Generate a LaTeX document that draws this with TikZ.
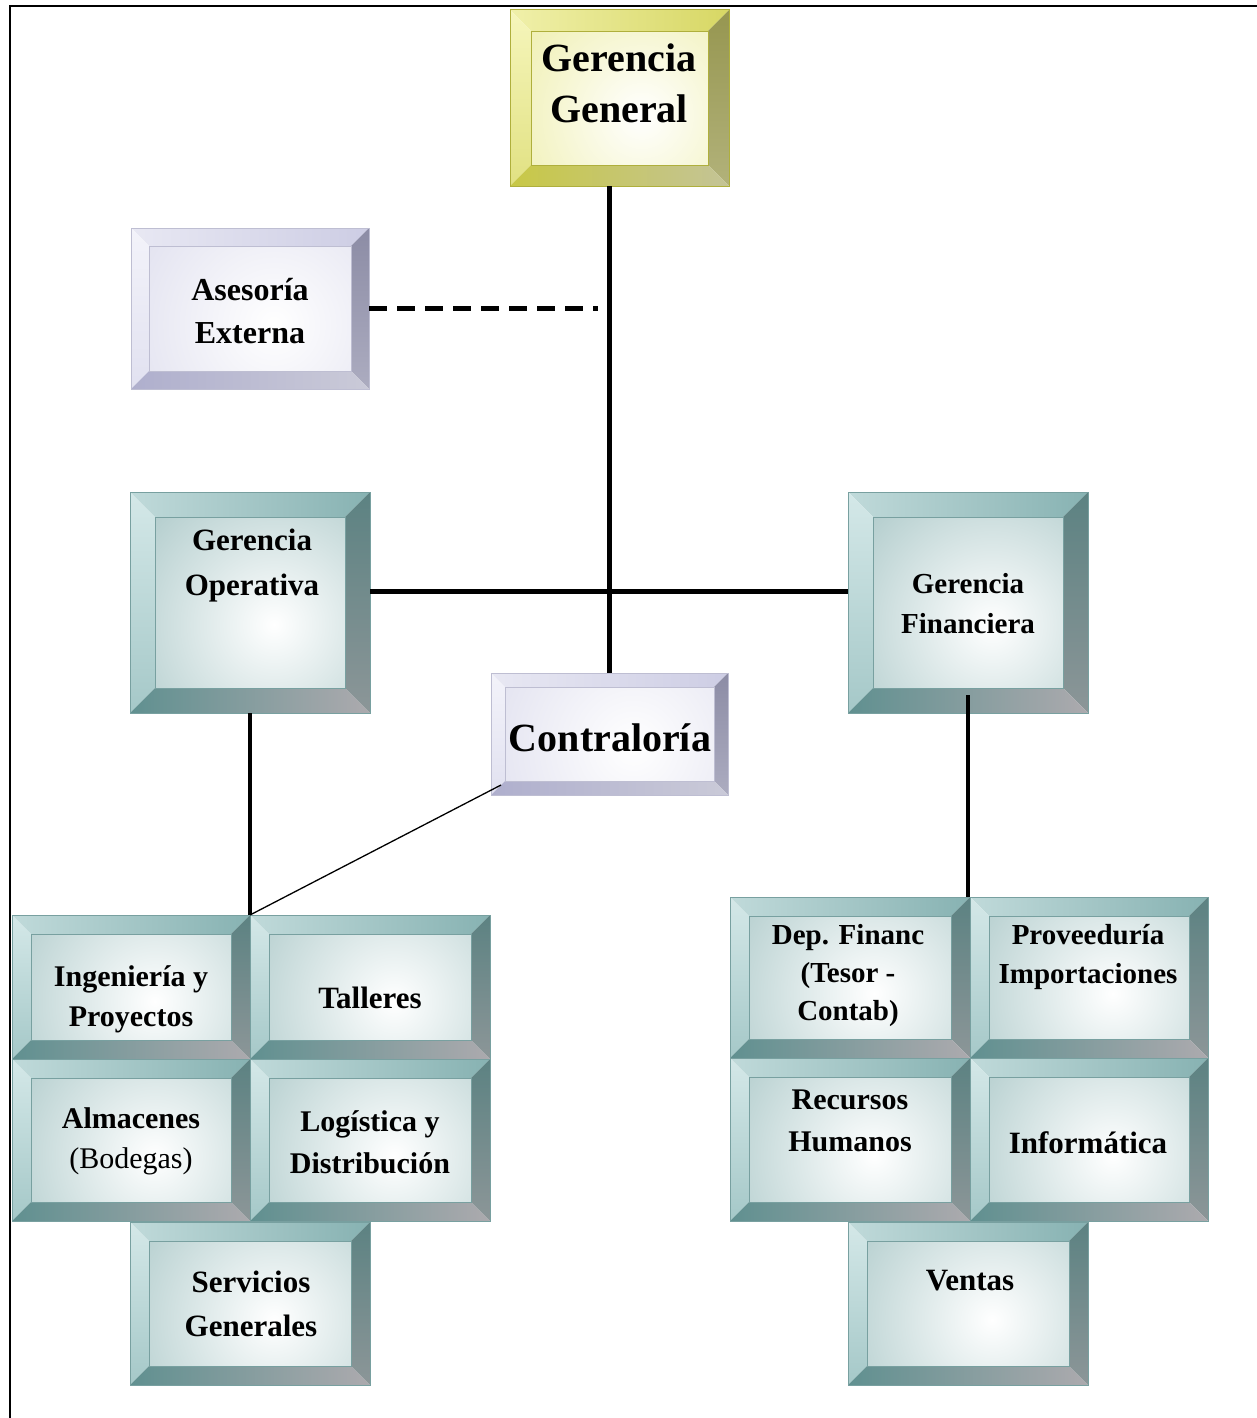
\documentclass[tikz,border=0pt]{standalone}
\usepackage{fontspec}
\setmainfont{Liberation Serif}
\usetikzlibrary{fit}

% teal scheme
\definecolor{tqface}{RGB}{116,164,164}
\definecolor{tqtopl}{RGB}{192,218,218}
\definecolor{tqtopr}{RGB}{135,178,178}
\definecolor{tqlefta}{RGB}{212,232,232}
\definecolor{tqleftb}{RGB}{165,200,200}
\definecolor{tqrighta}{RGB}{92,130,130}
\definecolor{tqrightb}{RGB}{140,150,152}
\definecolor{tqbotl}{RGB}{96,144,144}
\definecolor{tqbotr}{RGB}{172,170,174}
\definecolor{tqline}{RGB}{120,160,160}
% gold scheme
\definecolor{gdface}{RGB}{226,226,110}
\definecolor{gdtopl}{RGB}{240,240,170}
\definecolor{gdtopr}{RGB}{215,215,100}
\definecolor{gdlefta}{RGB}{246,246,188}
\definecolor{gdleftb}{RGB}{225,225,130}
\definecolor{gdrighta}{RGB}{150,150,80}
\definecolor{gdrightb}{RGB}{178,178,122}
\definecolor{gdbotl}{RGB}{200,200,70}
\definecolor{gdbotr}{RGB}{196,196,150}
\definecolor{gdline}{RGB}{175,175,60}
% lavender scheme
\definecolor{lvface}{RGB}{200,200,226}
\definecolor{lvtopl}{RGB}{232,232,243}
\definecolor{lvtopr}{RGB}{205,205,228}
\definecolor{lvlefta}{RGB}{243,243,250}
\definecolor{lvleftb}{RGB}{225,225,240}
\definecolor{lvrighta}{RGB}{140,140,165}
\definecolor{lvrightb}{RGB}{172,172,192}
\definecolor{lvbotl}{RGB}{175,175,205}
\definecolor{lvbotr}{RGB}{202,202,216}
\definecolor{lvline}{RGB}{190,190,210}

% bevelled box: name, scheme, x1, y1, x2, y2, bevel width
\newcommand\bevbox[7]{%
  \node[fit={(#3,#4) (#5,#6)}, inner sep=0pt, outer sep=0pt] (#1) {};
  \begin{scope}
    \fill[#2face] ({#3+#7},{#4+#7}) rectangle ({#5-#7},{#6-#7});
    \clip ({#3+#7},{#4+#7}) rectangle ({#5-#7},{#6-#7});
    \pgfmathsetmacro\facer{1.25*(#5-#3)}
    \shade[inner color=white, outer color=#2face]
      ({#3+0.6*(#5-#3)},{#4+0.6*(#6-#4)}) circle[radius=\facer pt];
  \end{scope}
  \shade[left color=#2topl, right color=#2topr]
    (#3,#4) -- (#5,#4) -- ({#5-#7},{#4+#7}) -- ({#3+#7},{#4+#7}) -- cycle;
  \shade[top color=#2lefta, bottom color=#2leftb]
    (#3,#4) -- ({#3+#7},{#4+#7}) -- ({#3+#7},{#6-#7}) -- (#3,#6) -- cycle;
  \shade[top color=#2righta, bottom color=#2rightb]
    (#5,#4) -- (#5,#6) -- ({#5-#7},{#6-#7}) -- ({#5-#7},{#4+#7}) -- cycle;
  \shade[left color=#2botl, right color=#2botr]
    (#3,#6) -- ({#3+#7},{#6-#7}) -- ({#5-#7},{#6-#7}) -- (#5,#6) -- cycle;
  \draw[#2line, line width=0.5pt] ({#3+#7},{#4+#7}) rectangle ({#5-#7},{#6-#7});
  \draw[#2line, line width=1pt] (#3,#4) rectangle (#5,#6);
}

\tikzset{
  lbl/.style={align=center, inner sep=0pt, text=black},
  conn/.style={line width=4.5pt, black},
  thinconn/.style={line width=1.3pt, black},
}

\begin{document}
\begin{tikzpicture}[x=1pt, y=-1pt]
\useasboundingbox (0,0) rectangle (1257,1418);
\fill[white] (0,0) rectangle (1257,1418);

% outer frame
\draw[line width=2pt] (10,1418) -- (10,6) -- (1257,6);

% top levels
\bevbox{gg}{gd}{510}{10}{729}{186}{21}
\bevbox{ase}{lv}{131}{228}{369}{389}{18}
\bevbox{go}{tq}{130}{492}{370}{713}{25}
\bevbox{gf}{tq}{848}{492}{1088}{713}{25}
\bevbox{contra}{lv}{491}{673}{728}{795}{14}

% operative units
\bevbox{ing}{tq}{12}{915}{250}{1059}{19}
\bevbox{tal}{tq}{250}{915}{490}{1059}{19}
\bevbox{alm}{tq}{12}{1059}{250}{1221}{19}
\bevbox{log}{tq}{250}{1059}{490}{1221}{19}
\bevbox{ser}{tq}{130}{1222}{370}{1385}{19}

% financial units
\bevbox{dep}{tq}{730}{897}{970}{1058}{19}
\bevbox{prov}{tq}{970}{897}{1208}{1058}{19}
\bevbox{rrhh}{tq}{730}{1058}{970}{1221}{19}
\bevbox{inf}{tq}{970}{1058}{1208}{1221}{19}
\bevbox{ven}{tq}{848}{1222}{1088}{1385}{19}

% labels
\node[lbl, font=\fontsize{40}{51}\selectfont\bfseries] (gg-t) at (619,83) {Gerencia\\General};
\node[lbl, font=\fontsize{32}{43}\selectfont\bfseries] (ase-t) at (250,311) {Asesoría\\Externa};
\node[lbl, font=\fontsize{31}{45}\selectfont\bfseries] (go-t) at (252,566) {Gerencia\\Operativa};
\node[lbl, font=\fontsize{29}{40}\selectfont\bfseries] (gf-t) at (968,604) {Gerencia\\Financiera};
\node[lbl, font=\fontsize{40}{48}\selectfont\bfseries] (contra-t) at (610,738) {Contraloría};
\node[lbl, font=\fontsize{30}{40}\selectfont\bfseries] (ing-t) at (131,999) {Ingeniería y\\Proyectos};
\node[lbl, font=\fontsize{31}{40}\selectfont\bfseries] (tal-t) at (370,998) {Talleres};
\node[lbl, font=\fontsize{30}{40}\selectfont] (alm-t) at (131,1141) {\textbf{Almacenes}\\(Bodegas)};
\node[lbl, font=\fontsize{30}{42}\selectfont\bfseries] (log-t) at (370,1142) {Logística y\\Distribución};
\node[lbl, font=\fontsize{31}{44}\selectfont\bfseries] (ser-t) at (251,1304) {Servicios\\Generales};
\node[lbl, font=\fontsize{29}{38}\selectfont\bfseries] (dep-t) at (848,976) {Dep. Financ\\(Tesor -\\Contab)};
\node[lbl, font=\fontsize{29}{39}\selectfont\bfseries] (prov-t) at (1088,957) {Proveeduría\\Importaciones};
\node[lbl, font=\fontsize{30}{42}\selectfont\bfseries] (rrhh-t) at (850,1121) {Recursos\\Humanos};
\node[lbl, font=\fontsize{31}{40}\selectfont\bfseries] (inf-t) at (1088,1143) {Informática};
\node[lbl, font=\fontsize{31}{40}\selectfont\bfseries] (ven-t) at (970,1281) {Ventas};

% connectors
\draw[conn] (gg.south -| contra.north) -- (contra.north);
\draw[conn, dash pattern=on 18pt off 10pt] (ase.east) -- ([xshift=-12pt]ase.east -| contra.north);
\draw[conn] ([yshift=11pt]go.east) -- ([yshift=11pt]gf.west);
\draw[conn] (go.south) -- (ing.north east);
\draw[thinconn] ([shift={(10pt,10pt)}]contra.south west) -- (ing.north east);
\draw[conn] ([yshift=18pt]gf.south) -- (gf.south |- dep.north);
\end{tikzpicture}
\end{document}
